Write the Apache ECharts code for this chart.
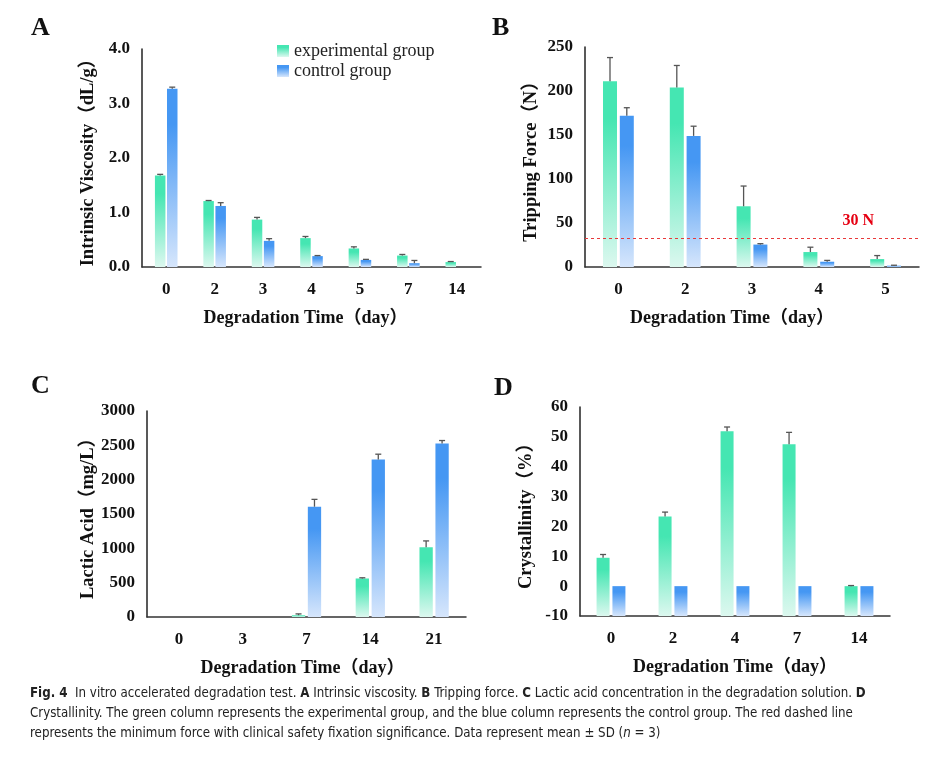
<!DOCTYPE html>
<html>
<head>
<meta charset="utf-8">
<script src="https://cdn.jsdelivr.net/npm/echarts@6/dist/echarts.min.js"></script>
<style>
  html, body { margin: 0; padding: 0; background: #fff; }
  #fig { width: 937px; height: 759px; }
</style>
</head>
<body>
<div id="fig"></div>
<script>
// A: intrinsic viscosity (dL/g)
const daysA = ['0', '2', '3', '4', '5', '7', '14']
const viscExp = [1.68, 1.21, 0.87, 0.53, 0.34, 0.21, 0.09]
const viscExpSd = [0.02, 0.01, 0.04, 0.03, 0.03, 0.02, 0.01]
const viscCtrl = [3.27, 1.12, 0.48, 0.20, 0.13, 0.07, 0]
const viscCtrlSd = [0.03, 0.06, 0.04, 0.01, 0.01, 0.05, 0]

// B: tripping force (N)
const daysB = ['0', '2', '3', '4', '5']
const forceExp = [211, 204, 69, 17, 9]
const forceExpSd = [27, 25, 23, 5.5, 4]
const forceCtrl = [172, 149, 25.5, 6, 1.5]
const forceCtrlSd = [9, 11, 1, 1.5, 0.5]
const forceLimit = 33
const forceLimitLabel = '30 N'

// C: lactic acid (mg/L)
const daysC = ['0', '3', '7', '14', '21']
const lacticExp = [0, 0, 25, 561, 1016]
const lacticExpSd = [0, 0, 20, 10, 92]
const lacticCtrl = [0, 0, 1606, 2294, 2526]
const lacticCtrlSd = [0, 0, 107, 77, 44]

// D: crystallinity (%)
const daysD = ['0', '2', '4', '7', '14']
const crystExp = [9.5, 23.3, 51.9, 47.5, 0]
const crystExpSd = [1.1, 1.5, 1.4, 4, 0.2]
const crystCtrl = [0, 0, 0, 0, 0]
const crystCtrlSd = [0, 0, 0, 0, 0]

const SERIF = "'Times New Roman', 'Liberation Serif', 'Noto Sans CJK SC', serif"
const SANS = "'Liberation Sans Narrow', 'DejaVu Sans Condensed', 'Liberation Sans', sans-serif"
const EXP_NAME = 'experimental group'
const CTRL_NAME = 'control group'

const grad = (top, bottom) => new echarts.graphic.LinearGradient(0, 0, 0, 1, [
  { offset: 0, color: top },
  { offset: 0.2, color: top },
  { offset: 1, color: bottom },
])
const expColor = grad('#45e6b2', '#dcf8ef')
const ctrlColor = grad('#4597f3', '#d6e6fc')

const panels = [
  { days: daysA, exp: viscExp, expSd: viscExpSd, ctrl: viscCtrl, ctrlSd: viscCtrlSd,
    grid: { left: 142, top: 49, width: 339, height: 218 },
    y: { min: 0, max: 4, interval: 1, fmt: v => v.toFixed(1) },
    yName: 'Intrinsic Viscosity（dL/g）', barW: 10.5, gap: 0.15, xNamePad: 12 },
  { days: daysB, exp: forceExp, expSd: forceExpSd, ctrl: forceCtrl, ctrlSd: forceCtrlSd,
    grid: { left: 585, top: 47, width: 334, height: 220 },
    y: { min: 0, max: 250, interval: 50 },
    yName: 'Tripping Force（N）', barW: 14, gap: 0.2, xNamePad: 40 },
  { days: daysC, exp: lacticExp, expSd: lacticExpSd, ctrl: lacticCtrl, ctrlSd: lacticCtrlSd,
    grid: { left: 147, top: 411, width: 319, height: 206 },
    y: { min: 0, max: 3000, interval: 500 },
    yName: 'Lactic Acid（mg/L）', barW: 13.3, gap: 0.2, xNamePad: 8 },
  { days: daysD, exp: crystExp, expSd: crystExpSd, ctrl: crystCtrl, ctrlSd: crystCtrlSd,
    grid: { left: 580, top: 407, width: 310, height: 209 },
    y: { min: -10, max: 60, interval: 10, start: -10 },
    yName: 'Crystallinity（%）', barW: 13, gap: 0.22, xNamePad: 0 },
]

const boldText = size => ({ fontFamily: SERIF, fontWeight: 'bold', fontSize: size, color: '#111' })

function errorBars(idx, vals, sds, side, p) {
  const off = side * (p.barW + p.barW * p.gap) / 2
  return {
    type: 'custom', xAxisIndex: idx, yAxisIndex: idx, silent: true, z: 5,
    data: vals.map((v, i) => [i, v, sds[i]]),
    renderItem(params, api) {
      const sd = api.value(2)
      if (!sd) return null
      const v = api.value(1)
      const base = api.coord([api.value(0), v])
      const top = api.coord([api.value(0), v + sd])
      const x = base[0] + off
      const st = { stroke: '#555', lineWidth: 1.3 }
      return { type: 'group', children: [
        { type: 'line', shape: { x1: x, y1: base[1], x2: x, y2: top[1] }, style: st },
        { type: 'line', shape: { x1: x - 3, y1: top[1], x2: x + 3, y2: top[1] }, style: st },
      ] }
    },
  }
}

const grid = [], xAxis = [], yAxis = [], series = []
panels.forEach((p, idx) => {
  grid.push(p.grid)
  xAxis.push({
    type: 'category', gridIndex: idx, data: p.days,
    axisLine: { onZero: false, lineStyle: { color: '#333', width: 1.5 } },
    axisTick: { show: false },
    axisLabel: { ...boldText(17), margin: 14 },
    name: 'Degradation Time（day）', nameLocation: 'middle', nameGap: 42,
    nameTextStyle: { ...boldText(18), padding: [0, p.xNamePad, 0, 0] },
  })
  yAxis.push({
    type: 'value', gridIndex: idx, min: p.y.min, max: p.y.max, interval: p.y.interval,
    startValue: p.y.start,
    axisLine: { show: true, lineStyle: { color: '#222', width: 1.5 } },
    axisTick: { show: false },
    splitLine: { show: false },
    axisLabel: { ...boldText(17), margin: 12, formatter: p.y.fmt || (v => String(v)) },
    name: p.yName, nameLocation: 'middle', nameGap: 45,
    nameTextStyle: boldText(18.5),
  })
  series.push({
    name: EXP_NAME, type: 'bar', xAxisIndex: idx, yAxisIndex: idx, data: p.exp,
    barWidth: p.barW, barGap: (p.gap * 100) + '%',
    itemStyle: { color: expColor },
  })
  series.push({
    name: CTRL_NAME, type: 'bar', xAxisIndex: idx, yAxisIndex: idx, data: p.ctrl,
    barWidth: p.barW, barGap: (p.gap * 100) + '%',
    itemStyle: { color: ctrlColor },
    markLine: idx === 1 ? {
      silent: true, symbol: 'none',
      lineStyle: { color: '#e8393a', type: [3, 3], width: 1 },
      label: { show: true, position: 'insideEndTop', formatter: forceLimitLabel,
        color: '#e60012', fontFamily: SERIF, fontWeight: 'bold', fontSize: 16,
        padding: [0, 40, 4, 0] },
      data: [{ yAxis: forceLimit }],
    } : undefined,
  })
  series.push(errorBars(idx, p.exp, p.expSd, -1, p))
  series.push(errorBars(idx, p.ctrl, p.ctrlSd, 1, p))
})

const letter = (t, x, y) => ({ type: 'text', left: x, top: y,
  style: { text: t, fontFamily: SERIF, fontWeight: 'bold', fontSize: 26, fill: '#111' } })
const captionStyle = (text, y) => ({ type: 'text', left: 30, top: y,
  style: { text, fontFamily: SANS, fontSize: 13.2, fill: '#222',
    rich: {
      b: { fontFamily: SANS, fontSize: 13.2, fontWeight: 'bold', fill: '#222' },
      i: { fontFamily: SANS, fontSize: 13.2, fontStyle: 'italic', fill: '#222' },
    } } })

const chart = echarts.init(document.getElementById('fig'), null, { renderer: 'canvas' })
chart.setOption({
  backgroundColor: '#fff',
  animation: false,
  grid, xAxis, yAxis, series,
  legend: {
    data: [EXP_NAME, CTRL_NAME], orient: 'vertical', left: 277, top: 42, padding: 0,
    icon: 'rect', itemWidth: 12, itemHeight: 12, itemGap: 2, selectedMode: false,
    textStyle: { fontFamily: SERIF, fontSize: 18, color: '#222' },
  },
  graphic: [
    letter('A', 31, 15), letter('B', 492, 15), letter('C', 31, 373), letter('D', 494, 375),
    captionStyle('{b|Fig. 4}  In vitro accelerated degradation test. {b|A} Intrinsic viscosity. {b|B} Tripping force. {b|C} Lactic acid concentration in the degradation solution. {b|D}', 687),
    captionStyle('Crystallinity. The green column represents the experimental group, and the blue column represents the control group. The red dashed line', 707),
    captionStyle('represents the minimum force with clinical safety fixation significance. Data represent mean ± SD ({i|n} = 3)', 727),
  ],
})
</script>
</body>
</html>
